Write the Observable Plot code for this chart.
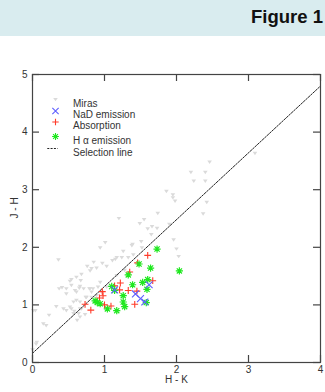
<!DOCTYPE html>
<html>
<head>
<meta charset="utf-8">
<script src="https://cdn.jsdelivr.net/npm/d3@7"></script>
<script src="https://cdn.jsdelivr.net/npm/@observablehq/plot@0.6"></script>
<style>
  html, body { margin: 0; padding: 0; background: #fff; }
  body { width: 325px; height: 392px; overflow: hidden; font-family: "Liberation Sans", Arial, sans-serif; }
  #header { height: 36px; background: #d9ecef; position: relative; }
  #header span { position: absolute; right: 2px; top: 6px; font-weight: bold; font-size: 18.5px; color: #111; }
  #chart svg { display: block; }
</style>
</head>
<body>
<div id="header"><span>Figure 1</span></div>
<div id="chart"></div>
<script>
// ---- Data ----
const mirasHK = [3.09,2.46,2.20,2.40,2.24,2.40,1.86,1.95,1.95,1.98,2.42,2.37,1.74,1.66,1.73,1.90,1.96,2.00,2.03,1.55,
  1.49,1.20,1.60,1.65,1.01,0.94,1.38,1.52,1.51,1.40,1.17,1.24,0.36,0.76,0.85,1.11,1.03,0.80,0.68,0.89,
  0.54,0.41,0.47,0.71,0.66,0.61,0.80,0.82,0.91,0.96,0.89,0.82,0.74,0.66,0.54,0.66,0.73,0.66,0.15,0.19,
  0.23,0.04,0.05,0.00,0.47,0.52,0.64,0.57,0.33,0.61,0.65,0.52,1.39,1.26,1.33,1.15,0.97,0.82,0.67,0.54,
  0.47,0.59,0.57,0.43,0.75,0.84,0.94,1.03,1.17,1.28,0.01,0.06,0.37,0.79,0.61,0.68,0.58,0.62];
const mirasJH = [3.63,3.48,3.30,3.30,3.15,3.15,2.97,2.91,2.86,2.80,2.78,2.58,2.59,2.36,2.33,2.40,2.13,1.97,1.84,2.48,
  2.41,2.50,2.32,2.22,2.08,1.99,2.03,1.99,2.10,1.87,1.82,1.82,1.78,1.67,1.74,1.77,1.67,1.59,1.53,1.64,
  1.44,1.30,1.28,1.28,1.32,1.22,1.28,1.22,1.31,1.22,1.16,1.13,1.13,1.05,0.93,0.93,0.83,0.79,0.67,0.64,
  0.82,0.90,0.32,0.22,0.90,0.96,0.85,1.05,0.97,1.48,1.29,1.41,2.05,1.93,1.82,1.79,1.72,1.63,1.42,1.34,
  1.19,1.25,0.85,0.93,1.13,1.28,1.39,1.31,1.51,1.60,0.90,0.35,1.28,1.28,1.08,0.93,0.89,0.73];

const nadHK = [1.14,1.43,1.50,1.56,1.62];
const nadJH = [1.26,1.19,1.11,1.05,1.35];

const absHK = [1.60,1.46,1.35,1.22,1.14,1.21,1.33,1.45,0.97,0.98,0.93,0.73,0.81,1.00,1.09,1.42,1.67];
const absJH = [1.86,1.73,1.57,1.38,1.33,1.26,1.25,1.24,1.23,1.16,1.12,1.01,0.91,1.00,0.98,1.01,1.42];

const haHK = [1.73,2.04,1.48,1.64,1.33,1.10,1.14,1.26,1.26,1.28,1.17,1.04,0.87,0.90,0.94,1.39,1.53,1.60,1.59,1.58];
const haJH = [1.97,1.59,1.71,1.64,1.52,1.32,1.25,1.16,1.05,0.97,0.90,0.93,1.07,1.04,1.02,1.35,1.39,1.44,1.27,1.04];

const selectionHK = [0, 4];
const selectionJH = [0.16, 4.80];

const xTicks = [0, 1, 2, 3, 4];
const yTicks = [0, 1, 2, 3, 4, 5];
const legendLabels = ["Miras", "NaD emission", "Absorption", "H \u03b1 emission", "Selection line"];

// ---- Build tables ----
const zip = (xs, ys) => xs.map((x, i) => ({x, y: ys[i]}));
const miras = zip(mirasHK, mirasJH);
const nad = zip(nadHK, nadJH);
const abs = zip(absHK, absJH);
const ha = zip(haHK, haJH);
const selection = zip(selectionHK, selectionJH);

// ---- Symbols ----
const sym = f => ({draw(c, size) { const r = Math.sqrt(size / Math.PI); f(c, r); }});
const triDown = sym((c, r) => { c.moveTo(-r, -r * 0.7); c.lineTo(r, -r * 0.7); c.lineTo(0, r * 0.8); c.closePath(); });
const plusSym = sym((c, r) => { c.moveTo(-r, 0); c.lineTo(r, 0); c.moveTo(0, -r); c.lineTo(0, r); });
const timesSym = sym((c, r) => { const a = r * 0.75; c.moveTo(-a, -a); c.lineTo(a, a); c.moveTo(-a, a); c.lineTo(a, -a); });
const asterSym = sym((c, r) => { const a = r * 0.72; c.moveTo(-r, 0); c.lineTo(r, 0); c.moveTo(0, -r); c.lineTo(0, r);
  c.moveTo(-a, -a); c.lineTo(a, a); c.moveTo(-a, a); c.lineTo(a, -a); });
const hlineSym = sym((c, r) => { c.moveTo(-r, 0); c.lineTo(r, 0); });

const gray = "#dadada", blue = "#5f5fff", red = "#ff3b2a", green = "#1fe81f";

const W = 325, H = 356, mT = 38, mB = 30, mL = 32, mR = 5;
const fh = H - mT - mB, fw = W - mL - mR, tk = 7;
const font = "Liberation Sans, Arial, sans-serif";

const legendRows = [25, 36.5, 47.5, 62, 74];
const legendSyms = [
  {symbol: triDown, fill: gray, stroke: "none", r: 2.3},
  {symbol: timesSym, fill: "none", stroke: blue, r: 4.2},
  {symbol: plusSym, fill: "none", stroke: red, r: 3.2},
  {symbol: asterSym, fill: "none", stroke: green, r: 3.4},
  {symbol: hlineSym, fill: "none", stroke: "#222", r: 5.2, strokeDasharray: "2,1.3", dx: 20}
];

const legendMarks = legendLabels.flatMap((lab, i) => {
  const s = legendSyms[i];
  return [
    Plot.dot([lab], {frameAnchor: "top-left", dx: s.dx ?? 23, dy: legendRows[i], symbol: s.symbol, r: s.r,
      fill: s.fill, stroke: s.stroke, strokeWidth: 1.1, strokeDasharray: s.strokeDasharray}),
    Plot.text([lab], {text: d => d, frameAnchor: "top-left", dx: 40.5, dy: legendRows[i], textAnchor: "start",
      fontSize: 10, fill: "#333", fontFamily: font})
  ];
});

const chart = Plot.plot({
  width: W, height: H,
  marginTop: mT, marginBottom: mB, marginLeft: mL, marginRight: mR,
  style: {fontFamily: font, background: "white", color: "#333"},
  x: {domain: [0, 4], axis: null},
  y: {domain: [0, 5], axis: null},
  marks: [
    Plot.dot(miras, {x: "x", y: "y", symbol: triDown, r: 2.3, fill: gray, stroke: "none"}),
    Plot.line(selection, {x: "x", y: "y", stroke: "#222", strokeWidth: 1, strokeDasharray: "2,1.3"}),
    Plot.dot(abs, {x: "x", y: "y", symbol: plusSym, r: 3.4, stroke: red, strokeWidth: 1.1}),
    Plot.dot(ha, {x: "x", y: "y", symbol: asterSym, r: 3.6, stroke: green, strokeWidth: 1.2}),
    Plot.dot(nad, {x: "x", y: "y", symbol: timesSym, r: 4.6, stroke: blue, strokeWidth: 1.1}),
    Plot.frame({stroke: "#444", strokeWidth: 1.2}),
    Plot.ruleX(xTicks, {x: d => d, insetTop: fh - tk, stroke: "#444", strokeWidth: 1.2}),
    Plot.ruleX(xTicks, {x: d => d, insetBottom: fh - tk, stroke: "#444", strokeWidth: 1.2}),
    Plot.ruleY(yTicks, {y: d => d, insetRight: fw - tk, stroke: "#444", strokeWidth: 1.2}),
    Plot.ruleY(yTicks, {y: d => d, insetLeft: fw - tk, stroke: "#444", strokeWidth: 1.2}),
    Plot.axisX(xTicks, {tickSize: 0, tickPadding: 3, fontSize: 10, fill: "#333", label: null, tickFormat: d => String(d)}),
    Plot.axisY(yTicks, {tickSize: 0, tickPadding: 5, fontSize: 10, fill: "#333", label: null, tickFormat: d => String(d)}),
    Plot.text(["H - K"], {text: d => d, frameAnchor: "bottom", dy: 20, fontSize: 10, fill: "#333"}),
    Plot.text(["J - H"], {text: d => d, frameAnchor: "left", dx: -17.5, rotate: -90, fontSize: 10, fill: "#333"}),
    ...legendMarks
  ]
});
document.getElementById("chart").appendChild(chart);
</script>
</body>
</html>
